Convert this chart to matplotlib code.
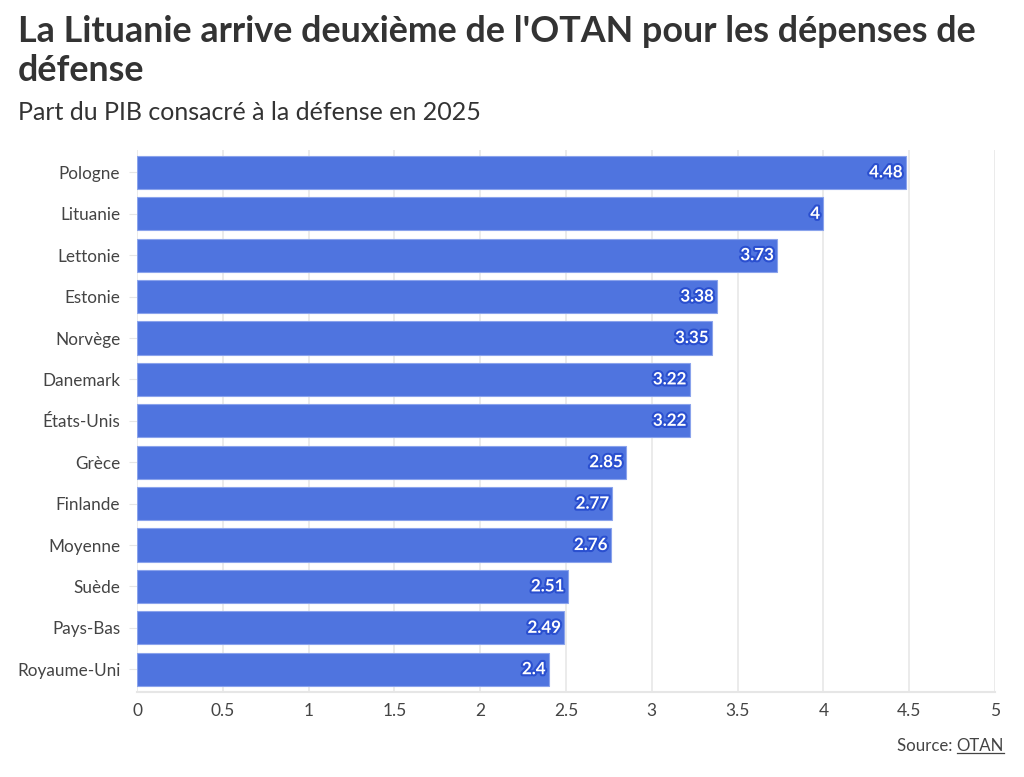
import matplotlib
matplotlib.use("Agg")
import matplotlib.pyplot as plt
import matplotlib.patheffects as pe

countries = ["Pologne", "Lituanie", "Lettonie", "Estonie", "Norvège", "Danemark",
             "États-Unis", "Grèce", "Finlande", "Moyenne", "Suède", "Pays-Bas", "Royaume-Uni"]
values = [4.48, 4, 3.73, 3.38, 3.35, 3.22, 3.22, 2.85, 2.77, 2.76, 2.51, 2.49, 2.4]
value_labels = ["4.48", "4", "3.73", "3.38", "3.35", "3.22", "3.22", "2.85", "2.77", "2.76", "2.51", "2.49", "2.4"]
xticks = [0, 0.5, 1, 1.5, 2, 2.5, 3, 3.5, 4, 4.5, 5]
xtick_labels = ["0", "0.5", "1", "1.5", "2", "2.5", "3", "3.5", "4", "4.5", "5"]

plt.rcParams['font.family'] = ['Lato', 'DejaVu Sans']

W, H = 1024, 777
fig = plt.figure(figsize=(10.24, 7.77), dpi=100)
ax = fig.add_axes([0.1338, 0.1094, 0.8379, 0.698])

bar_color = "#4f74df"
ypos = list(range(len(countries)))
ax.barh(ypos, values, height=0.8, color=bar_color, edgecolor="#8aa3ec", linewidth=0.8, zorder=3)

for y, v, lab in zip(ypos, values, value_labels):
    ax.text(v - 0.02, y, lab, ha="right", va="center", color="white", fontsize=12.2,
            fontweight="bold", zorder=4,
            path_effects=[pe.withStroke(linewidth=3, foreground="#2a4fcf")])

ax.set_xlim(0, 5)
ax.set_ylim(12.55, -0.55)
ax.set_yticks(ypos)
ax.set_yticklabels(countries, fontsize=12.3, color="#444444")
ax.set_xticks(xticks)
ax.set_xticklabels(xtick_labels, fontsize=12.5, color="#444444")
ax.tick_params(axis="y", length=6, color="#e6e6e6", pad=6)
ax.tick_params(axis="x", length=0, pad=8)
ax.grid(axis="x", color="#e8e8e8", linewidth=1.2, zorder=0)
for s in ["top", "right", "left"]:
    ax.spines[s].set_visible(False)
ax.spines["bottom"].set_color("#e6e6e6")
ax.spines["bottom"].set_linewidth(1.5)

fig.text(18 / W, 1 - 42 / H, "La Lituanie arrive deuxième de l'OTAN pour les dépenses de",
         fontsize=25.8, fontweight="bold", color="#333333", va="baseline", ha="left")
fig.text(18 / W, 1 - 81 / H, "défense",
         fontsize=25.8, fontweight="bold", color="#333333", va="baseline", ha="left")
fig.text(18 / W, 1 - 120 / H, "Part du PIB consacré à la défense en 2025", fontsize=18,
         color="#333333", va="baseline", ha="left")
src = fig.text(0.9805, 1 - 751 / H, "Source: ", fontsize=12.1, color="#444444", ha="right", va="baseline")
t2 = fig.text(0.9805, 1 - 751 / H, "OTAN", fontsize=12.1, color="#444444", ha="right", va="baseline")
fig.canvas.draw()
r = fig.canvas.get_renderer()
bb = t2.get_window_extent(r)
src.set_x(bb.x0 / fig.bbox.width)
fig.add_artist(plt.Line2D([bb.x0 / fig.bbox.width, bb.x1 / fig.bbox.width],
                          [(bb.y0 + 1) / fig.bbox.height] * 2, color="#444444", linewidth=0.9))

fig.savefig("out.png", dpi=100, facecolor="white")
